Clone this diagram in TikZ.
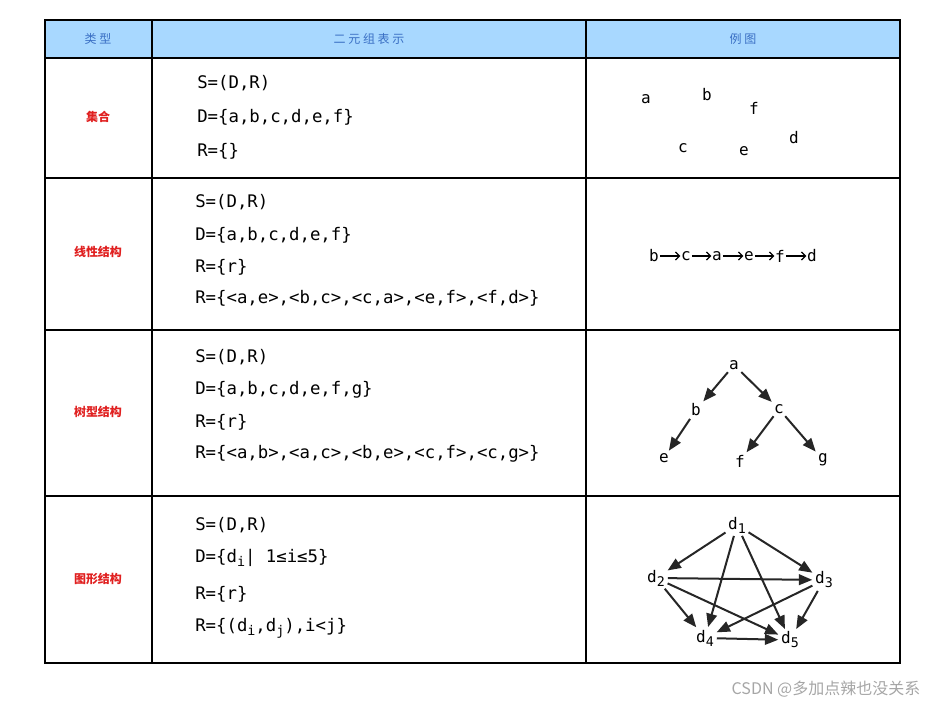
\documentclass[tikz,border=0pt]{standalone}
\usepackage{fontspec}
\setmonofont{DejaVu Sans Mono}
\newfontfamily\cjk{Noto Sans CJK SC}
\usetikzlibrary{arrows.meta}
\definecolor{hdr}{HTML}{A8D8FF}
\definecolor{hdrtxt}{HTML}{3A6FC4}
\definecolor{typ}{HTML}{E02020}
\newcommand{\sbs}[1]{\raisebox{-0.25em}{\fontsize{10}{10}\selectfont #1}}
\begin{document}
\begin{tikzpicture}[x=0.75pt,y=-0.75pt,
  txt/.style={anchor=west,font=\ttfamily\fontsize{13}{15}\selectfont,inner sep=0},
  lt/.style={font=\ttfamily\fontsize{12}{14}\selectfont,inner sep=1pt},
  ht/.style={font=\cjk\fontsize{9}{10}\selectfont,text=hdrtxt},
  ty/.style={font=\cjk\bfseries\fontsize{9}{10}\selectfont,text=typ},
  ar/.style={-{Triangle[length=10pt,width=8pt]},line width=1.5pt,draw=black!85,shorten >=1pt,shorten <=1pt},
  grid/.style={line width=2pt}]
\useasboundingbox (0,0) rectangle (940,709);
\fill[hdr] (45,20) rectangle (900,58);
\draw[grid] (45,20) rectangle (900,663);
\foreach \y in {58,178,330,496} \draw[grid] (45,\y) -- (900,\y);
\foreach \x in {152,586} \draw[grid] (\x,20) -- (\x,663);
\node[ht] (h1) at (98,39) {类 型};
\node[ht] (h2) at (369,39) {二 元 组 表 示};
\node[ht] (h3) at (743,39) {例 图};
\node[ty] (t1) at (98,117) {集合};
\node[ty] (t2) at (98,252) {线性结构};
\node[ty] (t3) at (98,412) {树型结构};
\node[ty] (t4) at (98,579) {图形结构};
% row1
\node[txt] (r1a) at (197,83) {S=(D,R)};
\node[txt] (r1b) at (197,117) {D=\{a,b,c,d,e,f\}};
\node[txt] (r1c) at (197,151) {R=\{\}};
\node[lt] (sa) at (646,99) {a};
\node[lt] (sb) at (707,95) {b};
\node[lt] (sf) at (754,108) {f};
\node[lt] (sc) at (683,148) {c};
\node[lt] (se) at (744,151) {e};
\node[lt] (sd) at (794,138) {d};
% row2
\node[txt] (r2a) at (195,202) {S=(D,R)};
\node[txt] (r2b) at (195,235) {D=\{a,b,c,d,e,f\}};
\node[txt] (r2c) at (195,267) {R=\{r\}};
\node[txt] (r2d) at (195,298) {R=\{<a,e>,<b,c>,<c,a>,<e,f>,<f,d>\}};
\foreach \n/\x in {b/654,c/686,a/717,e/749,f/780,d/812} \node[lt,inner sep=0.5pt] (l\n) at (\x,256) {\n};
\foreach \p/\q in {b/c,c/a,a/e,e/f,f/d} \draw[-{Straight Barb[length=3pt]},line width=0.9pt] (l\p) -- (l\q);
% row3
\node[txt] (r3a) at (195,357) {S=(D,R)};
\node[txt] (r3b) at (195,390) {D=\{a,b,c,d,e,f,g\}};
\node[txt] (r3c) at (195,422) {R=\{r\}};
\node[txt] (r3d) at (195,454) {R=\{<a,b>,<a,c>,<b,e>,<c,f>,<c,g>\}};
\node[lt] (ta) at (734,365) {a};
\node[lt] (tb) at (696,410) {b};
\node[lt] (tc) at (779,409) {c};
\node[lt] (te) at (664,458) {e};
\node[lt] (tf) at (740,461) {f};
\node[lt] (tg) at (823,460) {g};
\foreach \p/\q in {ta/tb,ta/tc,tb/te,tc/tf,tc/tg} \draw[ar] (\p) -- (\q);
% row4
\node[txt] (r4a) at (195,525) {S=(D,R)};
\node[txt] (r4b) at (195,558) {D=\{d\sbs{i}| 1≤i≤5\}};
\node[txt] (r4c) at (195,594) {R=\{r\}};
\node[txt] (r4d) at (195,628) {R=\{(d\sbs{i},d\sbs{j}),i<j\}};
\node[lt] (d1) at (737,525) {d\sbs{1}};
\node[lt] (d2) at (656,578) {d\sbs{2}};
\node[lt] (d3) at (824,580) {d\sbs{3}};
\node[lt] (d4) at (705,638) {d\sbs{4}};
\node[lt] (d5) at (790,640) {d\sbs{5}};
\foreach \p/\q in {d1/d2,d1/d3,d1/d4,d1/d5,d2/d3,d2/d4,d2/d5,d3/d4,d3/d5,d4/d5} \draw[ar] (\p) -- (\q);
\node[font=\cjk\fontsize{12}{14}\selectfont,text=gray!70,anchor=east] (wm) at (925,689) {CSDN @多加点辣也没关系};
\end{tikzpicture}
\end{document}
